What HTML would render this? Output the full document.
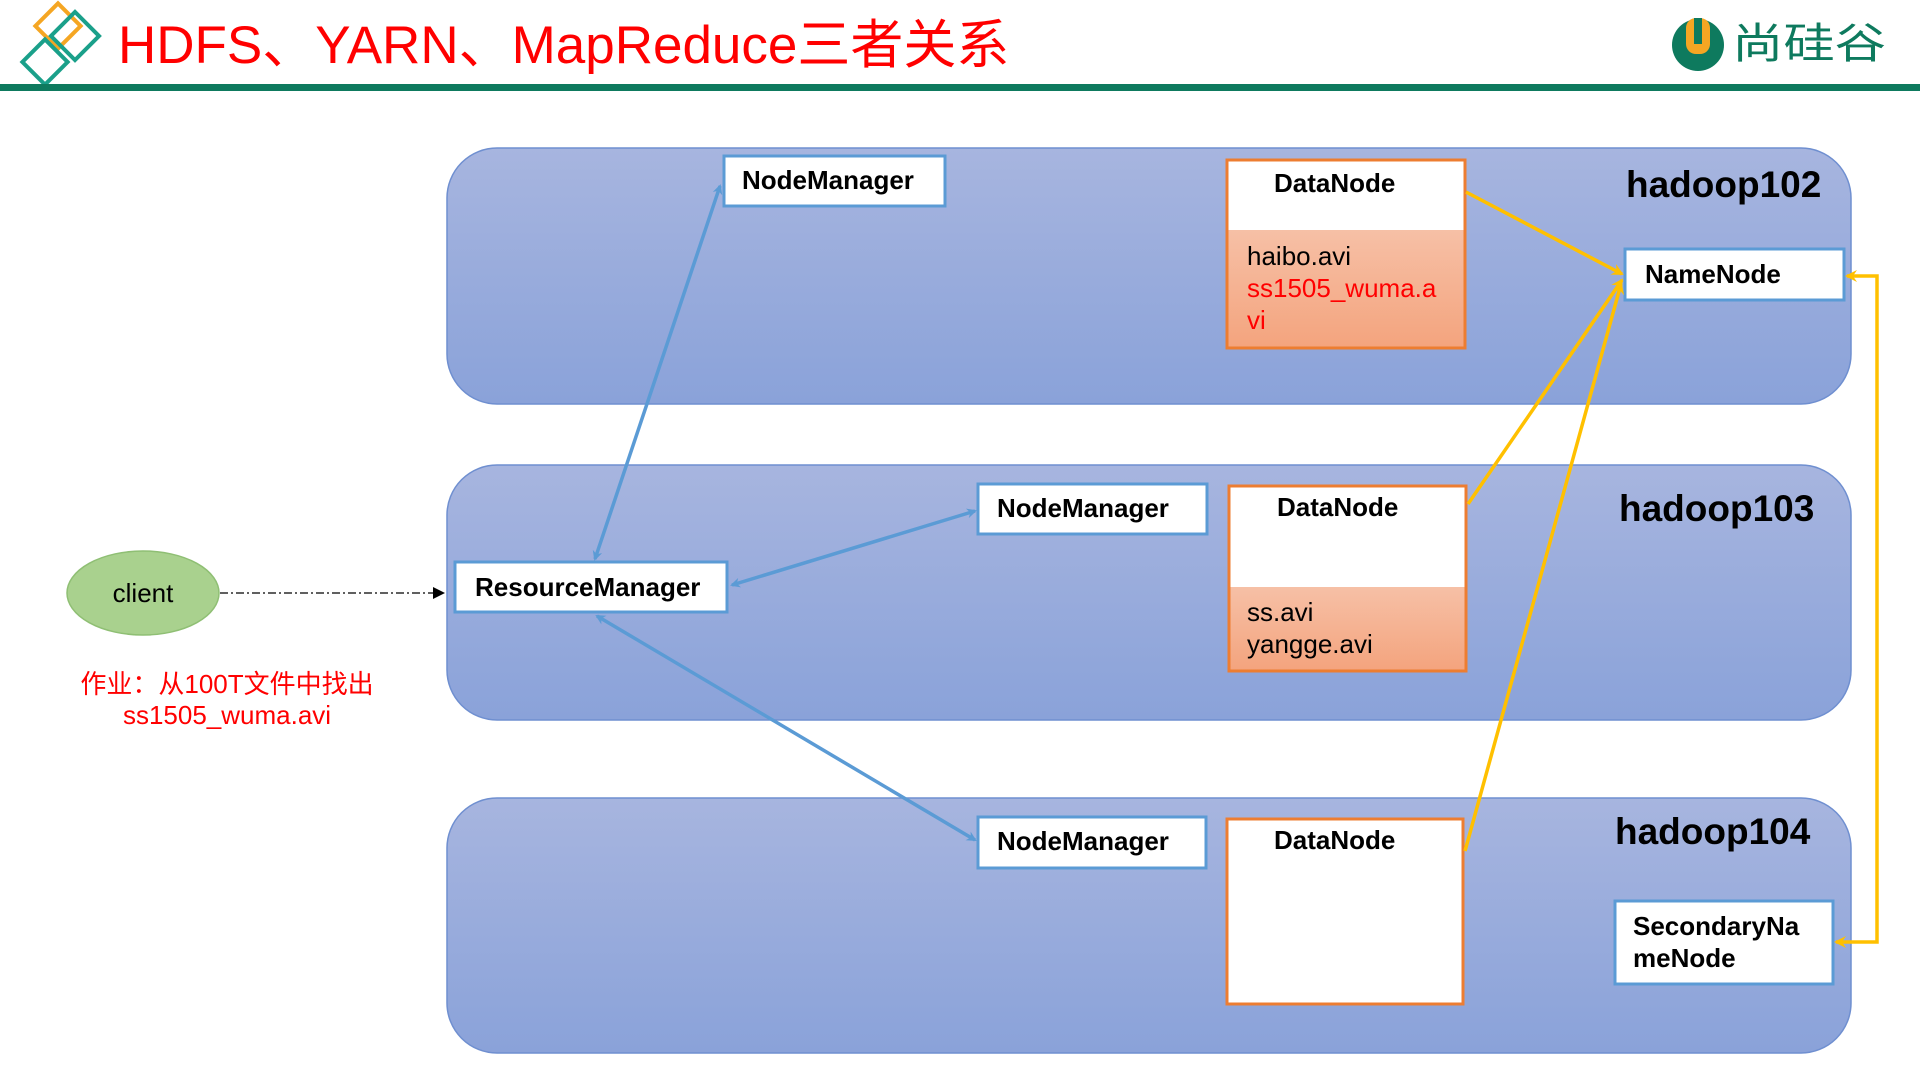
<!DOCTYPE html>
<html><head><meta charset="utf-8"><style>
body{margin:0;width:1920px;height:1080px;background:#fff;overflow:hidden}
svg{display:block}
</style></head><body>
<svg width="1920" height="1080" viewBox="0 0 1920 1080" xmlns="http://www.w3.org/2000/svg" font-family="Liberation Sans, Noto Sans CJK SC, sans-serif">
<defs>
<linearGradient id="pg" x1="0" y1="0" x2="0" y2="1"><stop offset="0" stop-color="#a7b5df"/><stop offset="1" stop-color="#8aa2d9"/></linearGradient>
<linearGradient id="og" x1="0" y1="0" x2="0" y2="1"><stop offset="0" stop-color="#f6c0a6"/><stop offset="1" stop-color="#f4a47e"/></linearGradient>
<marker id="ab" markerWidth="10" markerHeight="10" refX="8" refY="5" orient="auto-start-reverse" markerUnits="userSpaceOnUse"><path d="M0,0 L10,5 L0,10 L3,5z" fill="#5b9bd5"/></marker>
<marker id="ay" markerWidth="12" markerHeight="12" refX="10" refY="6" orient="auto-start-reverse" markerUnits="userSpaceOnUse"><path d="M0,0 L12,6 L0,12 L4,6z" fill="#ffc000"/></marker>
<marker id="ak" markerWidth="12" markerHeight="12" refX="10" refY="6" orient="auto" markerUnits="userSpaceOnUse"><path d="M0,0 L12,6 L0,12z" fill="#000"/></marker>
</defs>
<!-- header -->
<g fill="none" stroke-width="4">
<rect x="42" y="10" width="32" height="32" transform="rotate(45 58 26)" stroke="#f5a623"/>
<rect x="58" y="19" width="34" height="34" transform="rotate(45 75 36)" stroke="#1aa08a"/>
<rect x="29" y="46" width="32" height="32" transform="rotate(45 45 62)" stroke="#1aa08a"/>
</g>
<text x="118" y="63" font-size="53" fill="#ff0000">HDFS、YARN、MapReduce三者关系</text>
<rect x="0" y="84" width="1920" height="7" fill="#0e7a5e"/>
<circle cx="1698" cy="45" r="26" fill="#0e7a5e"/>
<rect x="1686" y="18" width="24" height="36" rx="10" fill="#f5a623"/>
<rect x="1694" y="18" width="8" height="26" fill="#0e7a5e"/>
<text x="1732" y="58" font-size="42" fill="#0e7a5e" textLength="154" lengthAdjust="spacingAndGlyphs">尚硅谷</text>
<!-- panels -->
<g fill="url(#pg)" stroke="#6f8fd0" stroke-width="1.5">
<rect x="447" y="148" width="1404" height="256" rx="50"/>
<rect x="447" y="465" width="1404" height="255" rx="50"/>
<rect x="447" y="798" width="1404" height="255" rx="50"/>
</g>
<g font-weight="bold" font-size="37" fill="#000">
<text x="1626" y="197">hadoop102</text>
<text x="1619" y="521">hadoop103</text>
<text x="1615" y="844">hadoop104</text>
</g>
<!-- boxes -->
<g fill="#fff" stroke="#5b9bd5" stroke-width="3">
<rect x="724" y="156" width="221" height="50"/>
<rect x="978" y="484" width="229" height="50"/>
<rect x="455" y="562" width="272" height="50"/>
<rect x="978" y="817" width="228" height="51"/>
<rect x="1625" y="249" width="219" height="51"/>
<rect x="1615" y="901" width="218" height="83"/>
</g>
<g fill="#fff" stroke="#ed7d31" stroke-width="3">
<rect x="1227" y="160" width="238" height="188"/>
<rect x="1229" y="486" width="237" height="185"/>
<rect x="1227" y="819" width="236" height="185"/>
</g>
<rect x="1228.5" y="230" width="235" height="116.5" fill="url(#og)"/>
<rect x="1230.5" y="587" width="234" height="82.5" fill="url(#og)"/>
<g font-weight="bold" font-size="26" fill="#000">
<text x="742" y="189">NodeManager</text>
<text x="997" y="517">NodeManager</text>
<text x="475" y="596">ResourceManager</text>
<text x="997" y="850">NodeManager</text>
<text x="1645" y="283">NameNode</text>
<text x="1633" y="935">SecondaryNa</text>
<text x="1633" y="967">meNode</text>
<text x="1274" y="192">DataNode</text>
<text x="1277" y="516">DataNode</text>
<text x="1274" y="849">DataNode</text>
</g>
<g font-size="26">
<text x="1247" y="265" fill="#000">haibo.avi</text>
<text x="1247" y="297" fill="#ff0000">ss1505_wuma.a</text>
<text x="1247" y="329" fill="#ff0000">vi</text>
<text x="1247" y="621" fill="#000">ss.avi</text>
<text x="1247" y="653" fill="#000">yangge.avi</text>
</g>
<!-- client -->
<ellipse cx="143" cy="593" rx="76" ry="42" fill="#a9d18e" stroke="#8fbf74" stroke-width="1.5"/>
<text x="143" y="602" font-size="26" text-anchor="middle" fill="#000">client</text>
<line x1="220" y1="593" x2="443" y2="593" stroke="#000" stroke-width="1.3" stroke-dasharray="8,3,2,3" marker-end="url(#ak)"/>
<g font-size="26" fill="#ff0000" text-anchor="middle">
<text x="227" y="693">作业：从100T文件中找出</text>
<text x="227" y="724">ss1505_wuma.avi</text>
</g>
<!-- blue connectors -->
<g stroke="#5b9bd5" stroke-width="3.5" fill="none">
<line x1="720" y1="186" x2="595" y2="559" marker-start="url(#ab)" marker-end="url(#ab)"/>
<line x1="732" y1="585" x2="975" y2="511" marker-start="url(#ab)" marker-end="url(#ab)"/>
<line x1="597" y1="616" x2="975" y2="840" marker-start="url(#ab)" marker-end="url(#ab)"/>
</g>
<!-- yellow connectors -->
<g stroke="#ffc000" stroke-width="3.5" fill="none">
<line x1="1466" y1="192" x2="1622" y2="274" marker-end="url(#ay)"/>
<line x1="1468" y1="504" x2="1622" y2="280" marker-end="url(#ay)"/>
<line x1="1465" y1="851" x2="1621" y2="284" marker-end="url(#ay)"/>
<polyline points="1847,276 1877,276 1877,942 1836,942" marker-start="url(#ay)" marker-end="url(#ay)"/>
</g>
</svg>
</body></html>
